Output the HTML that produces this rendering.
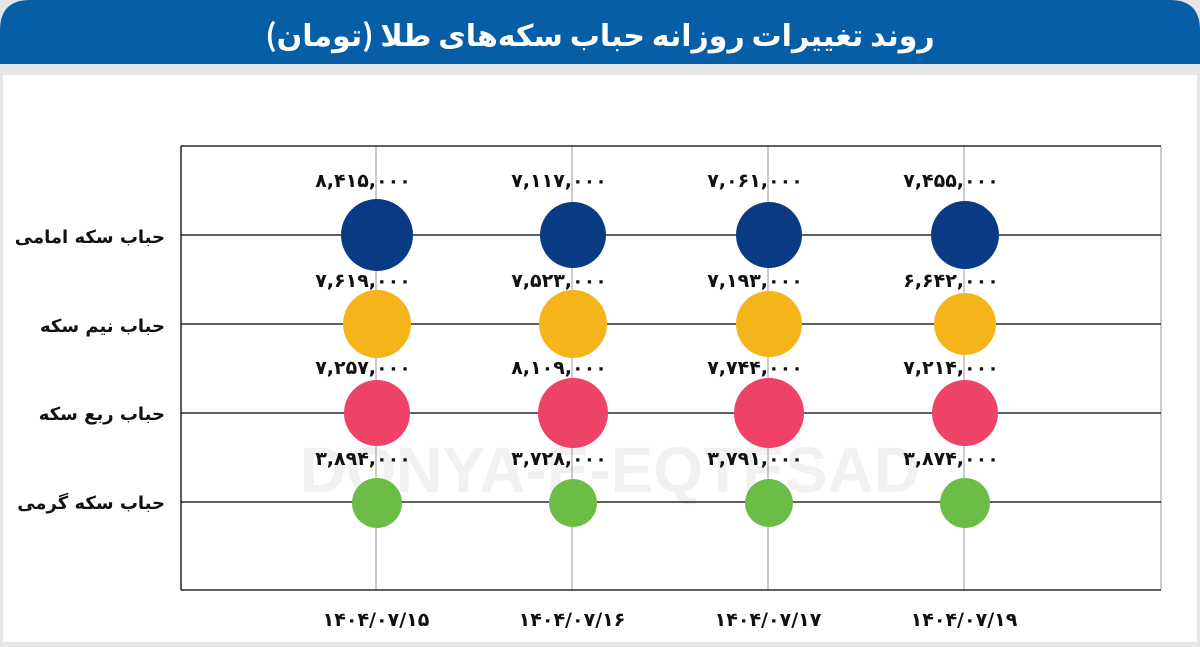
<!DOCTYPE html>
<html><head><meta charset="utf-8"><style>
body{margin:0;width:1200px;height:647px;background:#e8e8e8;overflow:hidden;font-family:"Liberation Sans","Noto Sans CJK SC",sans-serif}
</style></head><body>
<svg width="1200" height="647" xmlns="http://www.w3.org/2000/svg" style="position:absolute;left:0;top:0">
<rect x="0" y="0" width="1200" height="647" fill="#e6e6e6"/>
<path d="M0,64 V30 Q0,0 30,0 H1170 Q1200,0 1200,30 V64 Z" fill="#065ea6"/>
<text x="600" y="46" text-anchor="middle" font-size="30" font-weight="bold" fill="#fff" font-family="'Noto Sans CJK SC','DejaVu Sans',sans-serif" direction="rtl">روند تغییرات روزانه حباب سکه‌های طلا (تومان)</text>
<rect x="3" y="75" width="1194" height="567" fill="#fff"/>
<text x="610" y="492" text-anchor="middle" font-size="64" font-weight="bold" fill="#f1f1f1">DONYA-E-EQTESAD</text>
<g stroke="#999" stroke-width="1">
<line x1="376" y1="146" x2="376" y2="590"/><line x1="572" y1="146" x2="572" y2="590"/>
<line x1="768" y1="146" x2="768" y2="590"/><line x1="964" y1="146" x2="964" y2="590"/>
<line x1="1161" y1="146" x2="1161" y2="590"/>
</g>
<g stroke="#000" stroke-width="1.3">
<line x1="181" y1="146" x2="1161" y2="146"/><line x1="181" y1="590" x2="1161" y2="590"/>
<line x1="181" y1="146" x2="181" y2="590"/>
<line x1="181" y1="235" x2="1161" y2="235"/><line x1="181" y1="324" x2="1161" y2="324"/>
<line x1="181" y1="413" x2="1161" y2="413"/><line x1="181" y1="502" x2="1161" y2="502"/>
</g>
<g>
<circle cx="377" cy="235" r="36" fill="#0b3a85"/><circle cx="573" cy="235" r="33" fill="#0b3a85"/><circle cx="769" cy="235" r="33" fill="#0b3a85"/><circle cx="965" cy="235" r="34" fill="#0b3a85"/>
<circle cx="377" cy="324" r="34" fill="#f6b41b"/><circle cx="573" cy="324" r="34" fill="#f6b41b"/><circle cx="769" cy="324" r="33" fill="#f6b41b"/><circle cx="965" cy="324" r="31" fill="#f6b41b"/>
<circle cx="377" cy="413" r="33" fill="#ee4266"/><circle cx="573" cy="413" r="35" fill="#ee4266"/><circle cx="769" cy="413" r="35" fill="#ee4266"/><circle cx="965" cy="413" r="33" fill="#ee4266"/>
<circle cx="377" cy="503" r="25" fill="#6bbd45"/><circle cx="573" cy="503" r="24" fill="#6bbd45"/><circle cx="769" cy="503" r="24" fill="#6bbd45"/><circle cx="965" cy="503" r="25" fill="#6bbd45"/>
</g>
<g font-size="19" font-weight="bold" fill="#111" text-anchor="middle" font-family="'DejaVu Sans',sans-serif">
<text x="363" y="187">۸,۴۱۵,۰۰۰</text><text x="559" y="187">۷,۱۱۷,۰۰۰</text><text x="755" y="187">۷,۰۶۱,۰۰۰</text><text x="951" y="187">۷,۴۵۵,۰۰۰</text>
<text x="363" y="287">۷,۶۱۹,۰۰۰</text><text x="559" y="287">۷,۵۲۳,۰۰۰</text><text x="755" y="287">۷,۱۹۳,۰۰۰</text><text x="951" y="287">۶,۶۴۲,۰۰۰</text>
<text x="363" y="374">۷,۲۵۷,۰۰۰</text><text x="559" y="374">۸,۱۰۹,۰۰۰</text><text x="755" y="374">۷,۷۴۴,۰۰۰</text><text x="951" y="374">۷,۲۱۴,۰۰۰</text>
<text x="363" y="465">۳,۸۹۴,۰۰۰</text><text x="559" y="465">۳,۷۲۸,۰۰۰</text><text x="755" y="465">۳,۷۹۱,۰۰۰</text><text x="951" y="465">۳,۸۷۴,۰۰۰</text>
<text x="376" y="626">۱۴۰۴/۰۷/۱۵</text><text x="572" y="626">۱۴۰۴/۰۷/۱۶</text><text x="768" y="626">۱۴۰۴/۰۷/۱۷</text><text x="964" y="626">۱۴۰۴/۰۷/۱۹</text>
</g>
<g font-size="18" font-weight="bold" fill="#111" font-family="'DejaVu Sans',sans-serif">
<text x="165" y="243" direction="rtl" text-anchor="start">حباب سکه امامی</text>
<text x="165" y="332" direction="rtl" text-anchor="start">حباب نیم سکه</text>
<text x="165" y="420" direction="rtl" text-anchor="start">حباب ربع سکه</text>
<text x="165" y="509" direction="rtl" text-anchor="start">حباب سکه گرمی</text>
</g>
</svg>
</body></html>
